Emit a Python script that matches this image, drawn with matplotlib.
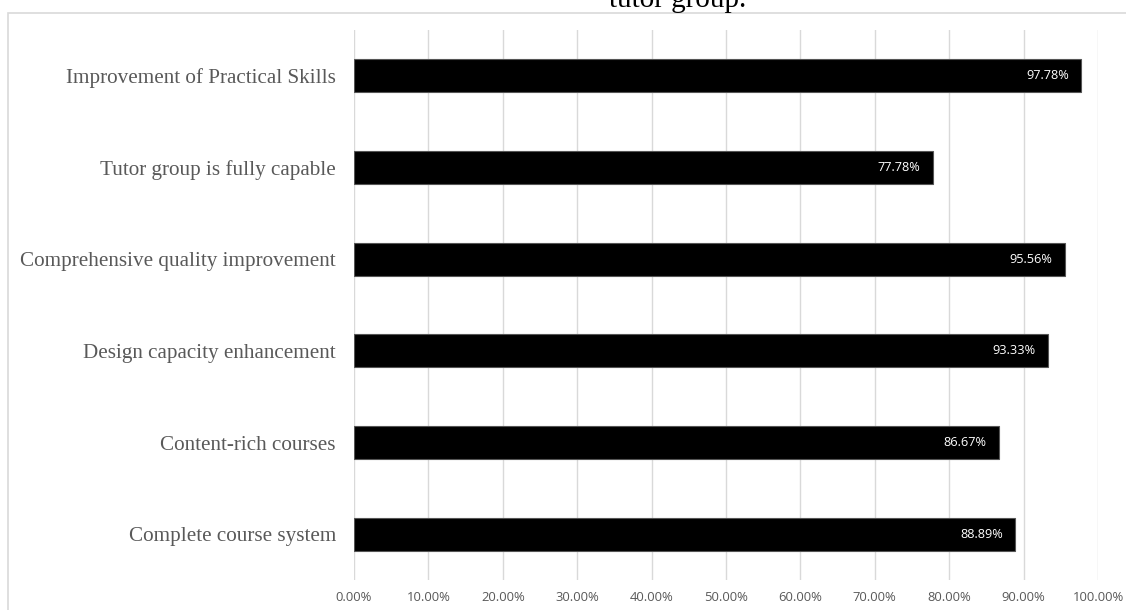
import numpy as np
import matplotlib.pyplot as plt
from matplotlib.patches import Rectangle

# data, top to bottom as in the chart
categories = ["Improvement of Practical Skills", "Tutor group is fully capable",
              "Comprehensive quality improvement", "Design capacity enhancement",
              "Content-rich courses", "Complete course system"]
values = [97.78, 77.78, 95.56, 93.33, 86.67, 88.89]
xticks = [0, 10, 20, 30, 40, 50, 60, 70, 80, 90, 100]

fig = plt.figure(figsize=(11.26, 6.10), dpi=100)
ax = fig.add_axes([354/1126, 30/610, (1098-354)/1126, 550/610])

y = np.arange(len(categories))
ax.barh(y, values, height=0.36, color="black", edgecolor="#555555", linewidth=0.8, zorder=3)
ax.set_ylim(len(categories) - 0.5, -0.5)
ax.set_xlim(0, 100)

for yi, v in zip(y, values):
    ax.annotate("%.2f%%" % v, (v, yi), xytext=(-9, 0), textcoords="offset points",
                ha="right", va="center", color="white", fontsize=9.2, family="Open Sans", zorder=4)

ax.set_yticks(y)
ax.set_yticklabels(categories, family="Liberation Serif", fontsize=15.2, color="#595959")
ax.set_xticks(xticks)
ax.set_xticklabels(["%.2f%%" % t for t in xticks], family="Open Sans", fontsize=9.4, color="#595959")
ax.tick_params(axis="both", length=0)
ax.tick_params(axis="y", pad=13)
ax.tick_params(axis="x", pad=8)
for s in ax.spines.values():
    s.set_visible(False)
ax.grid(axis="x", color="#d9d9d9", linewidth=1, zorder=0)

# outer chart border and cut off caption line at the top
fig.patches.append(Rectangle((8/1126, -0.01), 1.02, 1 - 13/610 + 0.01, transform=fig.transFigure,
                             fill=False, edgecolor="#d9d9d9", linewidth=1.2))
fig.text(678/1126, 1 - 7/610, "tutor group.", ha="center", va="baseline",
         family="Liberation Serif", fontsize=21, color="black")

fig.savefig("out.png", dpi=100)
